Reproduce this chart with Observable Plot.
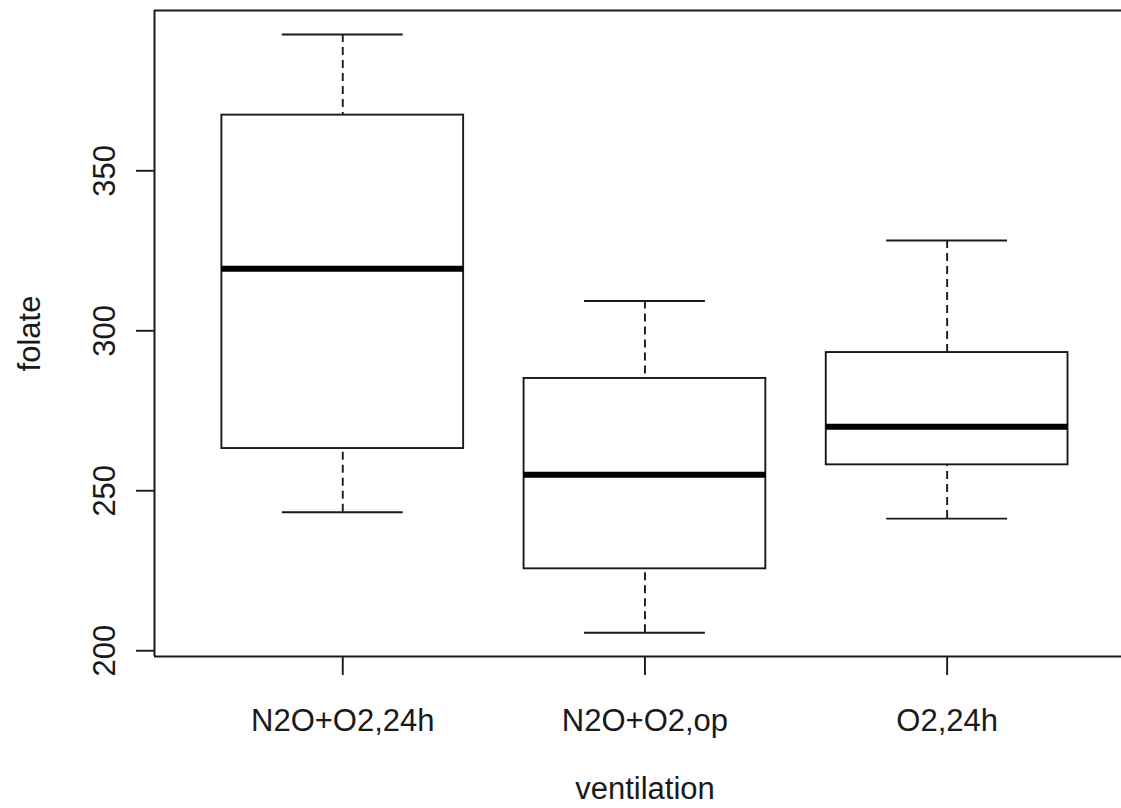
<!DOCTYPE html>
<html>
<head>
<meta charset="utf-8">
<script src="https://cdn.jsdelivr.net/npm/d3@7"></script>
<script src="https://cdn.jsdelivr.net/npm/@observablehq/plot@0.6"></script>
<style>
  html, body { margin: 0; padding: 0; background: #fff; }
  #chart svg { display: block; }
</style>
</head>
<body>
<div id="chart"></div>
<script>
// ---- data ----
const categories = ["N2O+O2,24h", "N2O+O2,op", "O2,24h"];
const whiskerLow  = [243.3, 205.6, 241.3];
const q1          = [263.2, 225.6, 258.1];
const median      = [319.4, 255.0, 270.0];
const q3          = [367.4, 285.1, 293.2];
const whiskerHigh = [392.6, 309.3, 328.2];
const yTicks = [200, 250, 300, 350];
const xLabel = "ventilation";
const yLabel = "folate";

// table built from arrays
const boxes = categories.map((c, i) => ({
  pos: i + 1, name: c,
  lo: whiskerLow[i], q1: q1[i], med: median[i], q3: q3[i], hi: whiskerHigh[i]
}));

const xDomain = [0.377, 3.577];
const yDomain = [198.2, 400.1];
const boxHalf = 0.4, capHalf = 0.2;
const font = "'Liberation Sans', Arial, sans-serif";
const ink = "#1a1a1a";
const lw = 1.9;

const chart = Plot.plot({
  width: 1121,
  height: 808,
  marginLeft: 154,
  marginRight: 0,
  marginTop: 10,
  marginBottom: 152,
  style: { fontFamily: font, background: "#fff", color: ink },
  x: { type: "linear", domain: xDomain, axis: null },
  y: { type: "linear", domain: yDomain, axis: null },
  marks: [
    // plot frame (left, top, bottom; right edge is cropped in reference)
    Plot.ruleY([yDomain[0], yDomain[1]], { y: d => d, stroke: ink, strokeWidth: 2 }),
    Plot.ruleX([xDomain[0]], { x: d => d, y1: yDomain[0], y2: yDomain[1], stroke: ink, strokeWidth: 2 }),
    // whiskers (dashed)
    Plot.ruleX(boxes, { x: "pos", y1: "hi", y2: "q3", stroke: ink, strokeWidth: lw, strokeDasharray: "8,5" }),
    Plot.ruleX(boxes, { x: "pos", y1: "lo", y2: "q1", stroke: ink, strokeWidth: lw, strokeDasharray: "8,5" }),
    // caps
    Plot.ruleY(boxes, { y: "hi", x1: d => d.pos - capHalf, x2: d => d.pos + capHalf, stroke: ink, strokeWidth: lw }),
    Plot.ruleY(boxes, { y: "lo", x1: d => d.pos - capHalf, x2: d => d.pos + capHalf, stroke: ink, strokeWidth: lw }),
    // boxes
    Plot.rect(boxes, { x1: d => d.pos - boxHalf, x2: d => d.pos + boxHalf, y1: "q1", y2: "q3", fill: "white", stroke: ink, strokeWidth: lw }),
    // medians
    Plot.ruleY(boxes, { y: "med", x1: d => d.pos - boxHalf, x2: d => d.pos + boxHalf, stroke: "#000", strokeWidth: 6 }),
    // y axis ticks
    Plot.axisY({ ticks: yTicks, tickSize: 18, tickFormat: () => "", stroke: ink, strokeWidth: lw }),
    // y tick labels (rotated as in R)
    Plot.text(yTicks, { y: d => d, text: d => String(d), frameAnchor: "left", dx: -49, rotate: -90,
      textAnchor: "middle", lineAnchor: "middle", fontSize: 31, fill: ink }),
    // x axis ticks + labels
    Plot.axisX({ ticks: [1, 2, 3], tickFormat: i => categories[i - 1], tickSize: 19, tickPadding: 33,
      fontSize: 31, label: null, stroke: ink, strokeWidth: lw, fill: ink }),
    // axis titles
    Plot.text([xLabel], { x: 2, text: d => d, frameAnchor: "bottom", dy: 133, lineAnchor: "middle",
      textAnchor: "middle", fontSize: 31, fill: ink }),
    Plot.text([yLabel], { text: d => d, frameAnchor: "left", dx: -124, rotate: -90,
      lineAnchor: "middle", textAnchor: "middle", fontSize: 31, fill: ink })
  ]
});
document.getElementById("chart").appendChild(chart);
</script>
</body>
</html>
